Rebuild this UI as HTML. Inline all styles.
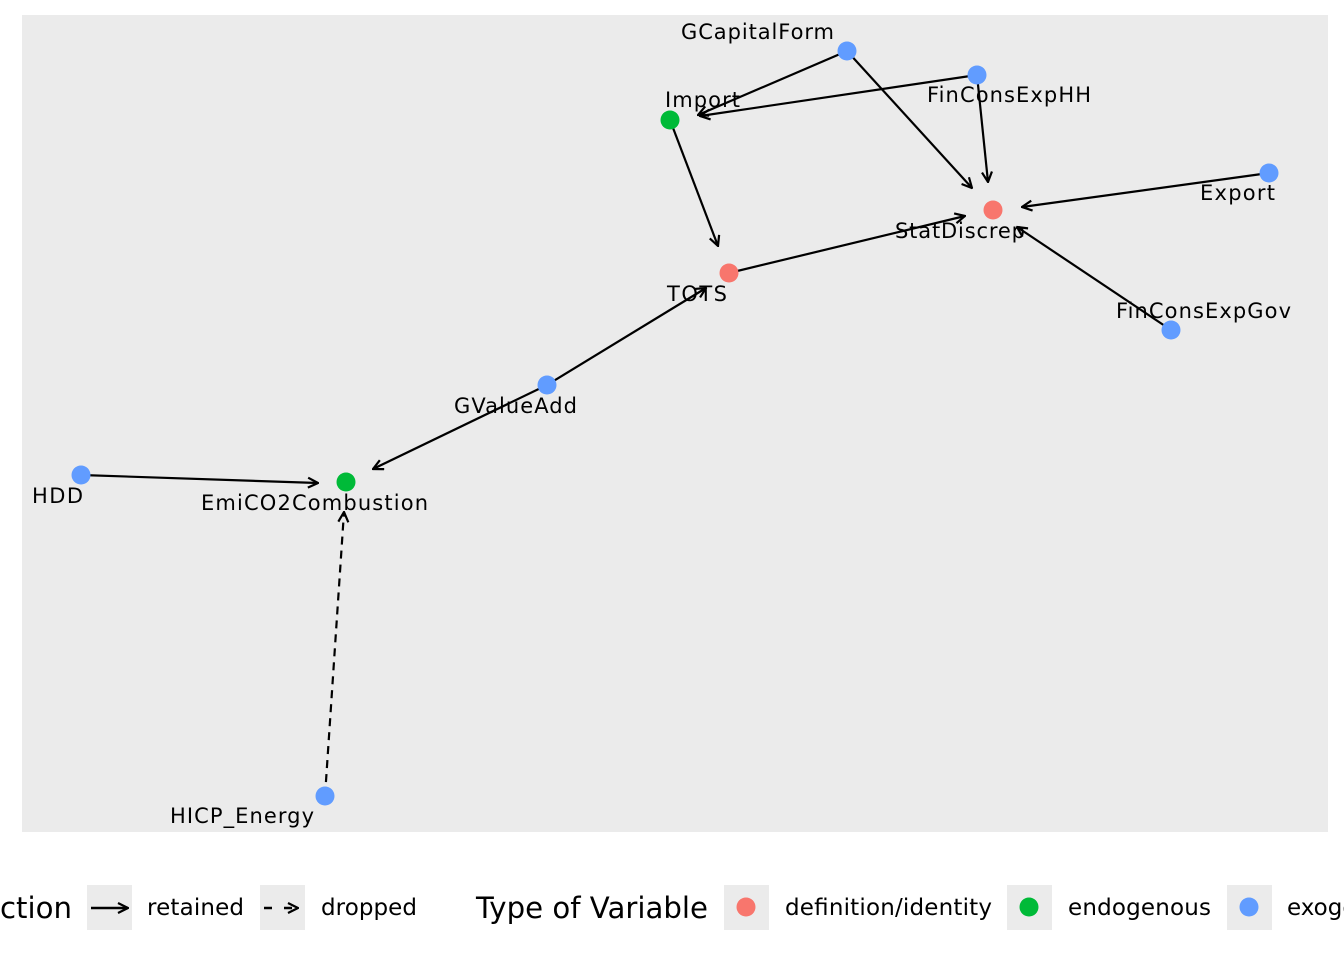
<!DOCTYPE html>
<html><head><style>
html,body{margin:0;padding:0;background:#fff;}
svg{display:block;font-family:"DejaVu Sans","Liberation Sans",sans-serif;}
</style></head><body>
<svg width="1344" height="960" viewBox="0 0 1344 960" xmlns="http://www.w3.org/2000/svg">
<defs>
<marker id="a" viewBox="0 0 12 12" refX="11" refY="6" markerWidth="12" markerHeight="12" markerUnits="userSpaceOnUse" orient="auto">
<path d="M1,1 L11,6 L1,11" fill="none" stroke="#000" stroke-width="2.2"/>
</marker>
</defs>
<rect x="22" y="15" width="1306" height="817" fill="#EBEBEB"/>
<g stroke="#000" stroke-width="2.2" fill="none" marker-end="url(#a)">
<line x1="847" y1="51" x2="698" y2="115"/>
<line x1="977" y1="75" x2="700" y2="116"/>
<line x1="847" y1="51" x2="972" y2="188"/>
<line x1="977" y1="75" x2="988" y2="182"/>
<line x1="670" y1="120" x2="718" y2="246"/>
<line x1="729" y1="273" x2="965" y2="216"/>
<line x1="1269" y1="173" x2="1022" y2="207"/>
<line x1="1171" y1="330" x2="1017" y2="227"/>
<line x1="547" y1="385" x2="706" y2="288"/>
<line x1="547" y1="385" x2="373" y2="469"/>
<line x1="81" y1="475" x2="318" y2="483"/>
<line x1="325" y1="796" x2="344" y2="512" stroke-dasharray="8,6"/>
</g>
<g>
<circle cx="847" cy="51" r="9.5" fill="#619CFF"/>
<circle cx="977" cy="75" r="9.5" fill="#619CFF"/>
<circle cx="670" cy="120" r="9.5" fill="#00BA38"/>
<circle cx="993" cy="210" r="9.5" fill="#F8766D"/>
<circle cx="1269" cy="173" r="9.5" fill="#619CFF"/>
<circle cx="729" cy="273" r="9.5" fill="#F8766D"/>
<circle cx="1171" cy="330" r="9.5" fill="#619CFF"/>
<circle cx="547" cy="385" r="9.5" fill="#619CFF"/>
<circle cx="81" cy="475" r="9.5" fill="#619CFF"/>
<circle cx="346" cy="482" r="9.5" fill="#00BA38"/>
<circle cx="325" cy="796" r="9.5" fill="#619CFF"/>
</g>
<g font-size="21" fill="#000" lengthAdjust="spacingAndGlyphs">
<text x="681" y="39" textLength="153">GCapitalForm</text>
<text x="665" y="107" textLength="75">Import</text>
<text x="927" y="102" textLength="164">FinConsExpHH</text>
<text x="1200" y="200" textLength="75">Export</text>
<text x="895" y="238" textLength="130">StatDiscrep</text>
<text x="667" y="301" textLength="60">TOTS</text>
<text x="1116" y="318" textLength="175">FinConsExpGov</text>
<text x="454" y="413" textLength="123">GValueAdd</text>
<text x="32" y="503" textLength="51">HDD</text>
<text x="201" y="510" textLength="227">EmiCO2Combustion</text>
<text x="170" y="823" textLength="144">HICP_Energy</text>
</g>
<text x="0" y="918" font-size="29" textLength="72" lengthAdjust="spacingAndGlyphs">ction</text>
<text x="476" y="918" font-size="29" textLength="232" lengthAdjust="spacingAndGlyphs">Type of Variable</text>
<rect x="87" y="885" width="45" height="45" fill="#EBEBEB"/>
<rect x="260" y="885" width="45" height="45" fill="#EBEBEB"/>
<rect x="724" y="885" width="45" height="45" fill="#EBEBEB"/>
<rect x="1007" y="885" width="45" height="45" fill="#EBEBEB"/>
<rect x="1227" y="885" width="45" height="45" fill="#EBEBEB"/>
<line x1="91" y1="908" x2="128" y2="908" stroke="#000" stroke-width="2.4" marker-end="url(#a)"/>
<line x1="264" y1="908" x2="298" y2="908" stroke="#000" stroke-width="2.4" stroke-dasharray="8,12" marker-end="url(#a)"/>
<circle cx="746" cy="907" r="9.5" fill="#F8766D"/>
<circle cx="1029" cy="907" r="9.5" fill="#00BA38"/>
<circle cx="1249" cy="907" r="9.5" fill="#619CFF"/>
<g font-size="23" fill="#000" lengthAdjust="spacingAndGlyphs">
<text x="147" y="915" textLength="97">retained</text>
<text x="321" y="915" textLength="96">dropped</text>
<text x="785" y="915" textLength="207">definition/identity</text>
<text x="1068" y="915" textLength="143">endogenous</text>
<text x="1287" y="915">exogenous</text>
</g>
</svg>
</body></html>
